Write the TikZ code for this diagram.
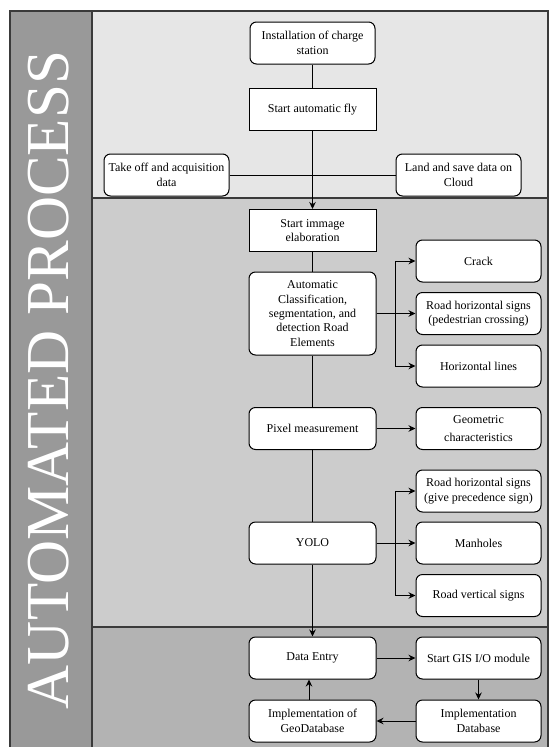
\documentclass[tikz,border=0pt]{standalone}
\usepackage{fontspec}
\setmainfont{Liberation Serif}
\usetikzlibrary{arrows.meta}
\definecolor{bandA}{HTML}{E6E6E6}
\definecolor{bandB}{HTML}{CCCCCC}
\definecolor{bandC}{HTML}{B3B3B3}
\definecolor{sidecol}{HTML}{999999}
\definecolor{framecol}{HTML}{3A3A3A}
\tikzset{
  boxbase/.style={draw=black, fill=white, line width=1pt, align=center,
    inner sep=1pt, minimum height=42pt,
    font=\fontsize{12}{14.4}\selectfont},
  rbox/.style={boxbase, rounded corners=6.5pt},
  sbox/.style={boxbase},
  colL/.style={minimum width=127pt},
  colR/.style={minimum width=125pt},
  arr/.style={draw=black, line width=1pt, -{Stealth[length=7pt,width=6.5pt]}},
  link/.style={draw=black, line width=1pt},
  frame/.style={draw=framecol, line width=1.2pt}
}
\begin{document}
\begin{tikzpicture}[x=1pt,y=-1pt]
\useasboundingbox (0,0) rectangle (549,747);
% swimlane bands
\fill[bandA] (92,11) rectangle (548,198);
\fill[bandB] (92,198) rectangle (548,627);
\fill[bandC] (92,627) rectangle (548,747);
\fill[sidecol] (10,11) rectangle (92,747);
\draw[frame] (10,748) -- (10,11) -- (548,11) -- (548,748);
\draw[frame] (92,11) -- (92,748);
\draw[frame] (92,198) -- (548,198);
\draw[frame] (92,627) -- (548,627);
\node[text=white, rotate=90, inner sep=0pt, font=\fontsize{61}{61}\selectfont]
  (title) at (49,380) {AUTOMATED PROCESS};

% acquisition
\node[rbox, colR] (inst) at (312.5,43) {Installation of charge\\station};
\node[sbox, colL] (fly) at (312.5,109.5) {Start automatic fly};
\node[rbox, colR] (take) at (166.5,175) {Take off and acquisition\\data};
\node[rbox, colR] (land) at (458.5,175) {Land and save data on\\Cloud};

% elaboration
\node[sbox, colL] (sie) at (312.5,230.5) {Start immage\\elaboration};
\node[rbox, colL, minimum height=83pt] (auto) at (312.5,313.5)
  {Automatic\\Classification,\\segmentation, and\\detection Road\\Elements};
\node[rbox, colR] (crack) at (478.5,261) {Crack};
\node[rbox, colR] (ped) at (478.5,313.5) {Road horizontal signs\\(pedestrian crossing)};
\node[rbox, colR] (hl) at (478.5,366) {Horizontal lines};
\node[rbox, colL] (pix) at (312.5,428.5) {Pixel measurement};
\node[rbox, colR] (geo) at (478.5,428.5) {Geometric\\[4pt]characteristics};
\node[rbox, colR] (give) at (478.5,491) {Road horizontal signs\\(give precedence sign)};
\node[rbox, colL] (yolo) at (312.5,543) {YOLO};
\node[rbox, colR] (man) at (478.5,543) {Manholes};
\node[rbox, colR] (rvs) at (478.5,595.5) {Road vertical signs};

% database
\node[rbox, colL] (de) at (312.5,658) {Data Entry};
\node[rbox, colR] (gis) at (478.5,658) {Start GIS I/O module};
\node[rbox, colL] (gdb) at (312.5,721) {Implementation of\\GeoDatabase};
\node[rbox, colR] (idb) at (478.5,721) {Implementation\\Database};

% connectors
\coordinate (j) at (fly |- take);
\draw[link] (inst) -- (fly);
\draw[link] (take.east) -- (j);
\draw[link] (land.west) -- (j);
\draw[arr] (fly.south) -- (sie.north);
\draw[link] (sie) -- (auto);
\draw[link] (auto) -- (pix);
\draw[link] (pix) -- (yolo);
\draw[arr] (yolo.south) -- (de.north);

\draw[arr] (auto.east) -- ++(19,0) |- (crack.west);
\draw[arr] (auto.east) -- (ped.west);
\draw[arr] (auto.east) -- ++(19,0) |- (hl.west);
\draw[arr] (pix.east) -- (geo.west);
\draw[arr] (yolo.east) -- ++(19,0) |- (give.west);
\draw[arr] (yolo.east) -- (man.west);
\draw[arr] (yolo.east) -- ++(19,0) |- (rvs.west);

\draw[arr] (de.east) -- (gis.west);
\draw[arr] (gis.south) -- (idb.north);
\draw[arr] (idb.west) -- (gdb.east);
\draw[arr] ([xshift=-3.5pt]gdb.north) -- ([xshift=-3.5pt]de.south);
\end{tikzpicture}
\end{document}
